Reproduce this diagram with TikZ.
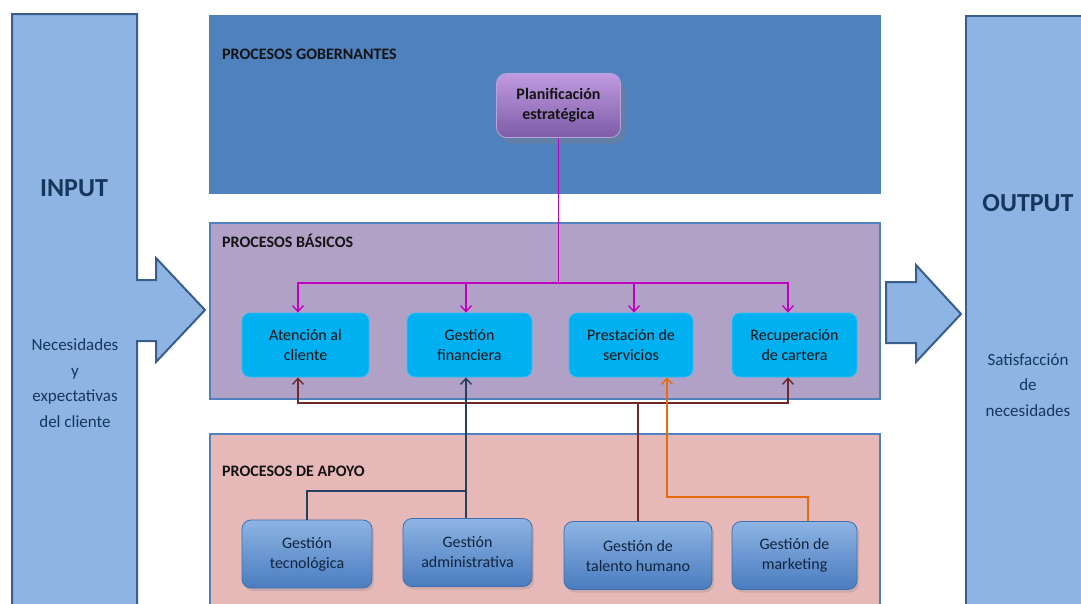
\documentclass[tikz,border=0pt]{standalone}
\usepackage{fontspec}
\setmainfont{Carlito}
\usetikzlibrary{arrows.meta,shadows,calc}
\definecolor{panelblue}{HTML}{4F81BD}
\definecolor{basicfill}{HTML}{B2A1C7}
\definecolor{supfill}{HTML}{E6B9B8}
\definecolor{iofill}{HTML}{8EB4E3}
\definecolor{ioborder}{HTML}{3A5E8C}
\definecolor{cyanbox}{HTML}{00B0F0}
\definecolor{magline}{HTML}{C000C0}
\definecolor{brownline}{HTML}{6E2A2A}
\definecolor{navyline}{HTML}{243F60}
\definecolor{orangeline}{HTML}{E46C0A}
\definecolor{navytext}{HTML}{17365D}
\definecolor{darktext}{HTML}{141414}
\definecolor{suptop}{HTML}{8DB4E2}
\definecolor{supbot}{HTML}{4A7CC0}
\definecolor{supdraw}{HTML}{3F6FAE}
\definecolor{suptext}{HTML}{10253F}
\definecolor{plantop}{HTML}{C09BE0}
\definecolor{planbot}{HTML}{7D5BA6}
\definecolor{plandraw}{HTML}{B9A3DC}
\tikzset{
  panel/.style={draw=panelblue,line width=1.6pt,minimum width=670pt,anchor=north west,inner sep=0pt},
  heading/.style={font=\fontsize{16}{19}\selectfont\bfseries,text=darktext,anchor=west,inner sep=0pt},
  cyanstyle/.style={rounded corners=8pt,fill=cyanbox,draw=cyanbox!80!white,line width=0.8pt,minimum height=64pt,align=center,font=\fontsize{16}{20}\selectfont,text=darktext,inner sep=2pt},
  supstyle/.style={rounded corners=9pt,top color=suptop,bottom color=supbot,draw=supdraw,line width=0.8pt,minimum height=68pt,align=center,font=\fontsize{16}{20}\selectfont,text=suptext,inner sep=2pt,drop shadow={opacity=0.25,shadow xshift=2pt,shadow yshift=-3pt}},
  conn/.style={line width=1.6pt},
  tip/.style={-{Straight Barb[length=6pt,width=11pt,line width=1.4pt]}},
  iotext/.style={align=center,text=navytext}
}
\begin{document}
\begin{tikzpicture}[x=1pt,y=-1pt]
\useasboundingbox (0,0) rectangle (1081,603);
\clip (0,0) rectangle (1081,603);
\fill[white] (0,0) rectangle (1081,603);

% INPUT shape
\draw[fill=iofill,draw=ioborder,line width=2pt,line join=miter]
  (12,14) -- (137,14) -- (137,280) -- (156,280) -- (156,258) -- (205,310)
  -- (156,362) -- (156,341) -- (137,341) -- (137,615) -- (12,615) -- cycle;
\node[iotext,font=\fontsize{26}{30}\selectfont\bfseries] (intitle) at (74,188) {INPUT};
\node[iotext,font=\fontsize{17}{25.5}\selectfont] (intext) at (75,383) {Necesidades\\y\\expectativas\\del cliente};

% OUTPUT shape
\draw[fill=iofill,draw=ioborder,line width=2pt,line join=miter]
  (886,282) -- (916,282) -- (916,265) -- (961,314) -- (916,362) -- (916,343) -- (886,343) -- cycle;
\draw[fill=iofill,draw=ioborder,line width=2pt] (966,16) rectangle (1095,615);
\node[iotext,font=\fontsize{26}{30}\selectfont\bfseries] (outtitle) at (1028,203) {OUTPUT};
\node[iotext,font=\fontsize{17}{25.5}\selectfont] (outtext) at (1028,385) {Satisfacción\\de\\necesidades};

% panels
\node[panel,fill=panelblue,minimum height=177pt] (gob) at (209,15) {};
\node[heading] (gobh) at (222,54) {PROCESOS GOBERNANTES};
\node[panel,fill=basicfill,minimum height=176pt] (bas) at (209,222) {};
\node[heading] (bash) at (222,241) {PROCESOS BÁSICOS};
\node[panel,fill=supfill,minimum height=190pt] (sup) at (209,433) {};
\node[heading] (suph) at (222,471) {PROCESOS DE APOYO};

% planificacion
\node[rounded corners=10pt,top color=plantop,bottom color=planbot,draw=plandraw,line width=0.8pt,
  minimum width=124pt,minimum height=64pt,align=center,font=\fontsize{16}{20}\selectfont\bfseries,text=darktext,
  drop shadow={opacity=0.35,shadow xshift=5pt,shadow yshift=-6pt}] (plan) at (558.5,105.5) {Planificación\\estratégica};

% basic boxes
\node[cyanstyle,minimum width=127pt] (ac) at (305.5,345) {Atención al\\cliente};
\node[cyanstyle,minimum width=125pt] (gf) at (469.5,345) {Gestión\\financiera};
\node[cyanstyle,minimum width=124pt] (ps) at (631,345) {Prestación de\\servicios};
\node[cyanstyle,minimum width=125pt] (rc) at (794.5,345) {Recuperación\\de cartera};

% support boxes
\node[supstyle,minimum width=130pt] (gt) at (307,554) {Gestión\\tecnológica};
\node[supstyle,minimum width=129pt] (ga) at (467.5,552.5) {Gestión\\administrativa};
\node[supstyle,minimum width=148pt] (th) at (638,555.5) {Gestión de\\talento humano};
\node[supstyle,minimum width=125pt] (gm) at (794.5,555.5) {Gestión de\\marketing};

% magenta connectors
\coordinate (mj) at (plan.south |- 0,283);
\draw[conn,magline] (plan.south) -- (mj);
\draw[conn,magline,tip] (mj) -| ([xshift=-7.5pt]ac.north);
\draw[conn,magline,tip] (mj) -| ([xshift=-3.5pt]gf.north);
\draw[conn,magline,tip] (mj) -| ([xshift=3pt]ps.north);
\draw[conn,magline,tip] (mj) -| ([xshift=-6.5pt]rc.north);

% brown connectors
\coordinate (bj) at (th.north |- 0,403);
\draw[conn,brownline] (th.north) -- (bj);
\draw[conn,brownline,tip] (bj) -| ([xshift=-7.5pt]ac.south);
\draw[conn,brownline,tip] (bj) -| ([xshift=-6.5pt]rc.south);

% navy connectors
\coordinate (nj) at ([xshift=-1.5pt]ga.north |- 0,491);
\draw[conn,navyline] (gt.north) |- (nj);
\draw[conn,navyline,tip] ([xshift=-1.5pt]ga.north) -- ([xshift=-3.5pt]gf.south);

% orange connector
\coordinate (oj) at ([xshift=36pt]ps.south |- 0,497);
\draw[conn,orangeline,tip] ([xshift=13.5pt]gm.north) |- (oj) -- ([xshift=36pt]ps.south);
\end{tikzpicture}
\end{document}
